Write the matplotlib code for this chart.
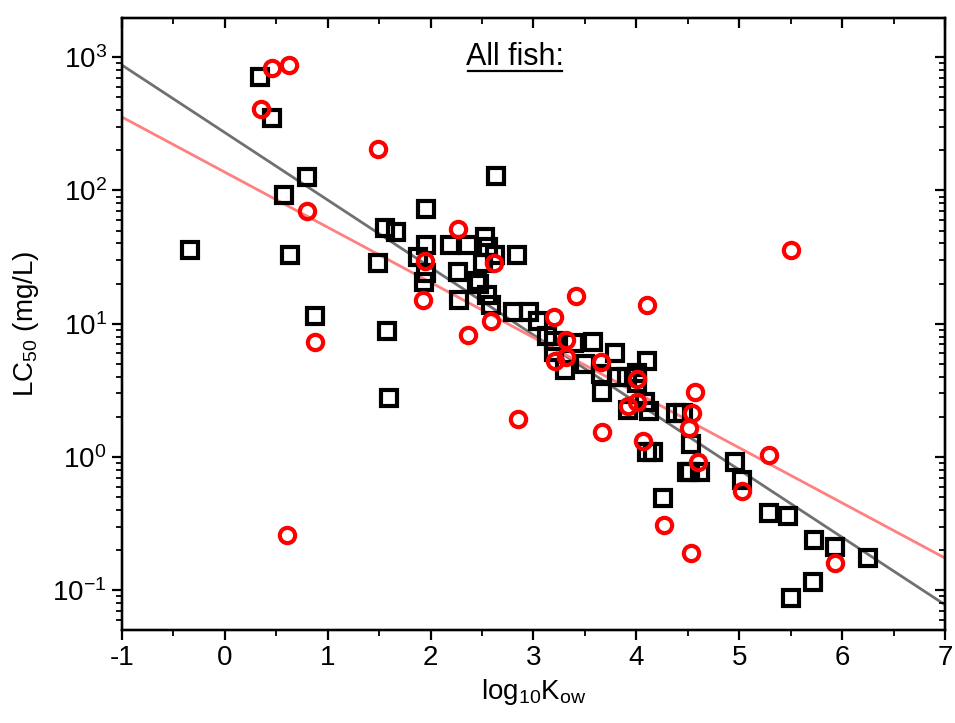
import matplotlib
matplotlib.use('Agg')
import matplotlib.pyplot as plt
import numpy as np
from matplotlib.lines import Line2D
from matplotlib import font_manager

fams = {f.name for f in font_manager.fontManager.ttflist}
main_font = 'Liberation Sans Narrow' if 'Liberation Sans Narrow' in fams else 'Liberation Sans'
print(main_font)
plt.rcParams['font.family'] = [main_font, 'DejaVu Sans']
plt.rcParams['mathtext.fontset'] = 'custom'
plt.rcParams['mathtext.rm'] = main_font
plt.rcParams['mathtext.it'] = main_font
plt.rcParams['axes.unicode_minus'] = False
fs = 24 if main_font.endswith('Narrow') else 20

# black squares
sq_x = [0.34, 0.46, 0.58, 0.80, 0.63, -0.34, 0.88, 1.56, 1.66, 1.49, 1.58, 1.60,
        2.64, 1.96, 1.96, 2.19, 2.36, 2.53, 2.56, 2.63, 2.84, 1.88, 2.51, 1.96,
        1.94, 2.27, 2.45, 2.47, 2.28, 2.55, 2.59, 2.80, 2.96, 3.04, 3.13, 3.20,
        3.39, 3.58, 3.20, 3.31, 3.50, 3.79, 4.10, 3.66, 3.82, 3.91, 4.01, 4.01,
        3.67, 3.92, 4.08, 4.12, 4.39, 4.45, 4.53, 4.10, 4.16, 4.49, 4.52, 4.62,
        4.26, 4.96, 5.03, 5.29, 5.47, 5.73, 5.93, 6.25, 5.72, 5.50]
sq_y = [710, 350, 92, 126, 33, 36, 11.4, 52, 49, 28.5, 8.8, 2.76,
        128, 73, 39, 39, 39, 45, 37.5, 33, 33, 31.6, 28.5, 24,
        20.5, 24.5, 21, 20, 15, 16.4, 13.8, 12.3, 12.3, 10.5, 8.1, 7.4,
        7.2, 7.3, 6.1, 4.5, 5.0, 6.0, 5.25, 4.2, 4.0, 4.0, 4.3, 3.6,
        3.07, 2.25, 2.6, 2.2, 2.15, 2.15, 1.25, 1.09, 1.09, 0.77, 0.77, 0.77,
        0.49, 0.92, 0.67, 0.38, 0.36, 0.24, 0.21, 0.175, 0.115, 0.087]

# red circles
ci_x = [0.46, 0.62, 0.35, 1.49, 0.80, 2.27, 1.95, 2.62, 1.93, 0.88, 0.60, 2.36,
        2.59, 2.85, 3.41, 4.10, 3.20, 3.32, 3.21, 3.32, 3.66, 4.01, 3.92, 4.01,
        3.67, 4.06, 4.57, 4.54, 4.51, 4.60, 4.27, 4.53, 5.03, 5.29, 5.93, 5.50]
ci_y = [830, 870, 410, 205, 70, 51, 29.5, 28.5, 15, 7.3, 0.26, 8.2,
        10.5, 1.93, 16.2, 13.8, 11.2, 7.6, 5.25, 5.6, 5.2, 3.85, 2.4, 2.6,
        1.54, 1.32, 3.07, 2.15, 1.65, 0.92, 0.31, 0.19, 0.56, 1.03, 0.16, 36]

# fitted lines: log10(LC50) = slope * log10Kow + intercept
fit_black = (-0.506, 2.434)
fit_red = (-0.4135, 2.137)
fit_range = [-1, 7]

fig = plt.figure(figsize=(9.55, 7.23), dpi=100)
ax = fig.add_axes([0.1277, 0.1286, 0.8618, 0.8465])

xx = np.array(fit_range, dtype=float)
ax.plot(xx, 10 ** (fit_black[0] * xx + fit_black[1]), color='#707070', lw=2.0, zorder=2)
ax.plot(xx, 10 ** (fit_red[0] * xx + fit_red[1]), color='#ff8080', lw=2.0, zorder=2)

ax.plot(sq_x, sq_y, ls='none', marker='s', ms=11, mfc='none', mec='black', mew=3.0, zorder=3)
ax.plot(ci_x, ci_y, ls='none', marker='o', ms=11, mfc='none', mec='red', mew=3.0, zorder=4)

ax.set_yscale('log')
ax.set_xlim(-1, 7)
ax.set_ylim(0.0504, 1965)
ax.set_xticks(range(-1, 8))
ax.set_xticks(np.arange(-0.5, 7, 1), minor=True)

for s in ax.spines.values():
    s.set_linewidth(1.6)
ax.tick_params(which='major', direction='out', length=7, width=1.6, labelsize=fs, pad=4)
ax.tick_params(which='minor', direction='out', length=4, width=1.3)

ax.set_xlabel(r'log$_{10}$K$_{\rm ow}$', fontsize=fs, labelpad=4)
ax.set_ylabel(r'LC$_{50}$ (mg/L)', fontsize=fs, labelpad=8)

# top and right axes with inward ticks, no labels
axt = ax.twiny()
axt.set_xlim(ax.get_xlim())
axt.set_xticks(range(-1, 8))
axt.set_xticks(np.arange(-0.5, 7, 1), minor=True)
axt.tick_params(which='major', direction='in', length=7, width=1.6, labeltop=False)
axt.tick_params(which='minor', direction='in', length=4, width=1.3)
axr = ax.twinx()
axr.set_yscale('log')
axr.set_ylim(ax.get_ylim())
axr.tick_params(which='major', direction='in', length=7, width=1.6, labelright=False)
axr.tick_params(which='minor', direction='in', length=4, width=1.3)
for a in (axt, axr):
    for s in a.spines.values():
        s.set_linewidth(1.6)

t = ax.text(0.4775, 0.936, 'All fish:', transform=ax.transAxes, ha='center', va='center',
            fontsize=fs + 2)
fig.canvas.draw()
bb = t.get_window_extent().transformed(fig.transFigure.inverted())
fig.add_artist(Line2D([bb.x0 + 0.002, bb.x1 - 0.002], [bb.y0 + 0.002, bb.y0 + 0.002], color='black', lw=1.6))

fig.savefig('out.png', dpi=100)
